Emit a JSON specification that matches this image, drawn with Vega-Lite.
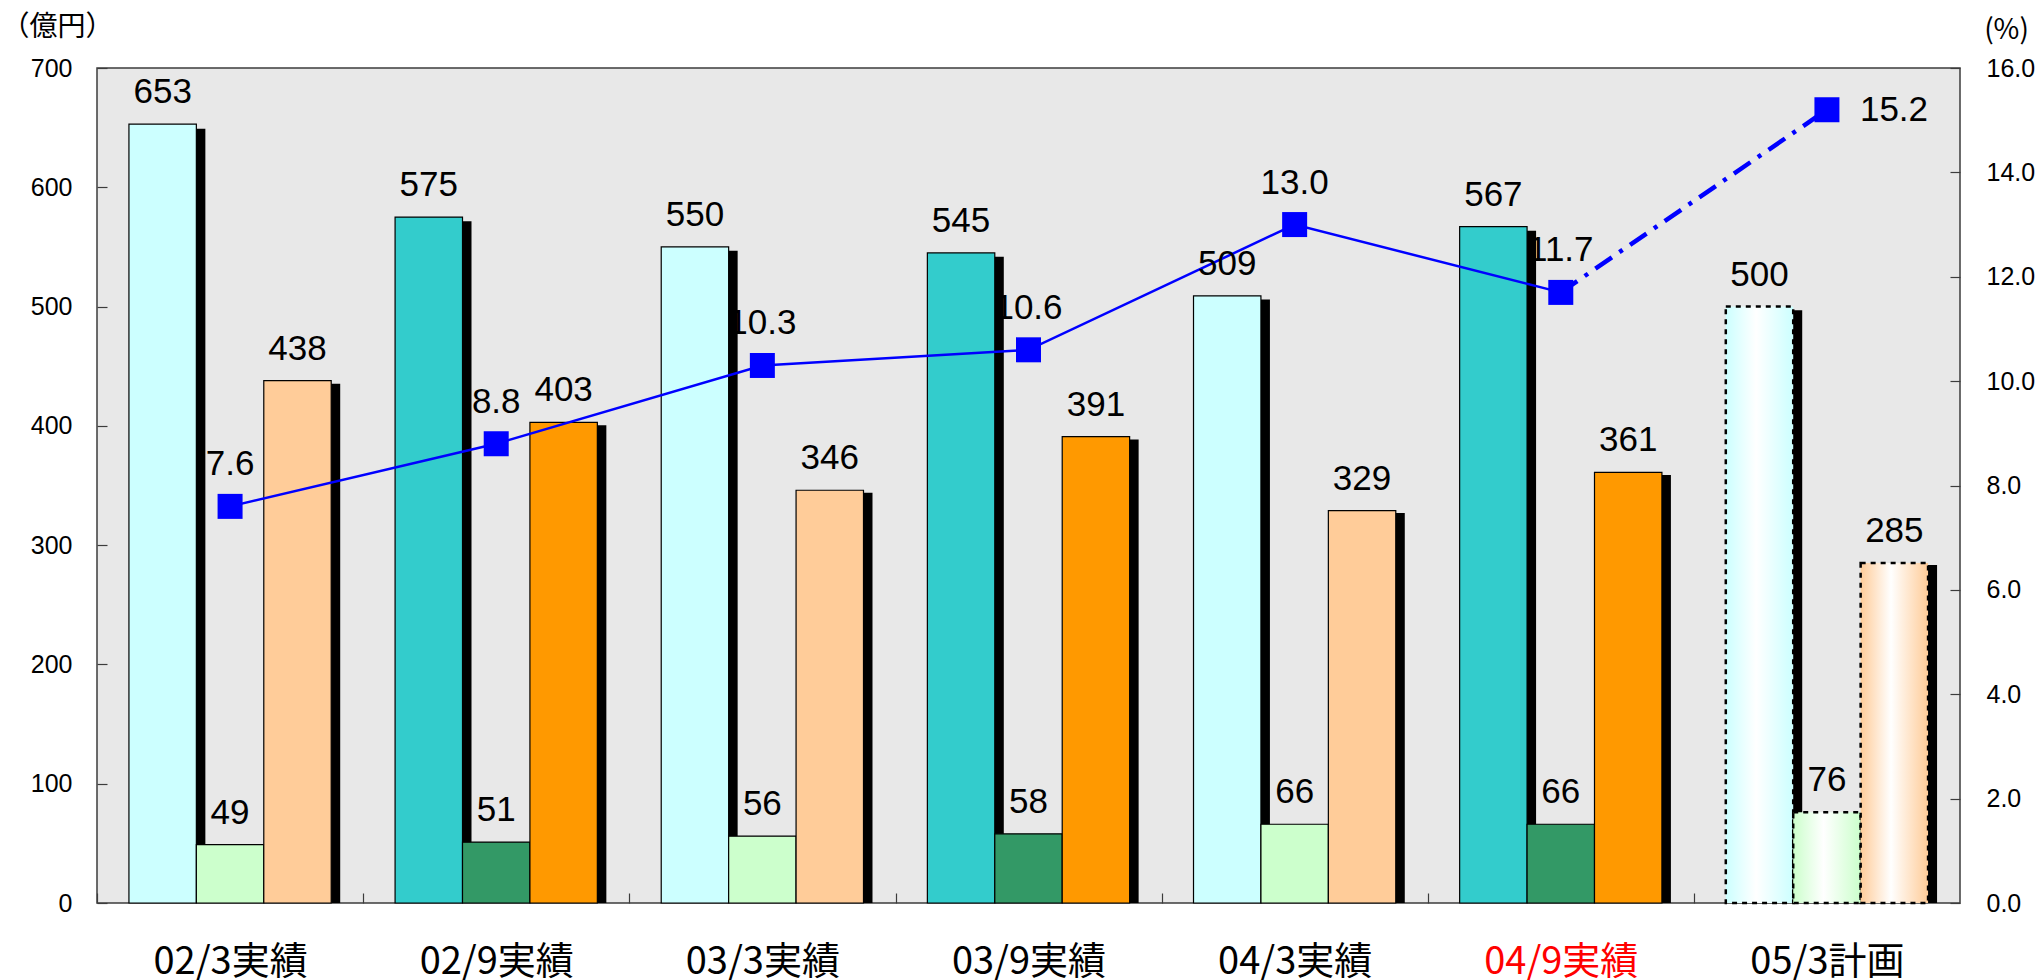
{
  "$schema": "https://vega.github.io/schema/vega-lite/v6.json",
  "width": 1863,
  "height": 835,
  "autosize": {"type": "none"},
  "padding": {"left": 97, "top": 68, "right": 80, "bottom": 77},
  "background": "white",
  "config": {
    "view": {"fill": "#e8e8e8", "stroke": "#3c3c3c", "strokeWidth": 1.5},
    "font": "Liberation Sans",
    "axis": {"domain": false, "grid": false, "tickColor": "#3c3c3c", "tickSize": -10, "tickWidth": 1.2, "labelColor": "black"}
  },
  "datasets": {
    "bars": [
      {"group": "02/3実績", "period": "3月", "item": "s1", "value": 653},
      {"group": "02/3実績", "period": "3月", "item": "s2", "value": 49},
      {"group": "02/3実績", "period": "3月", "item": "s3", "value": 438},
      {"group": "02/9実績", "period": "9月", "item": "s1", "value": 575},
      {"group": "02/9実績", "period": "9月", "item": "s2", "value": 51},
      {"group": "02/9実績", "period": "9月", "item": "s3", "value": 403},
      {"group": "03/3実績", "period": "3月", "item": "s1", "value": 550},
      {"group": "03/3実績", "period": "3月", "item": "s2", "value": 56},
      {"group": "03/3実績", "period": "3月", "item": "s3", "value": 346},
      {"group": "03/9実績", "period": "9月", "item": "s1", "value": 545},
      {"group": "03/9実績", "period": "9月", "item": "s2", "value": 58},
      {"group": "03/9実績", "period": "9月", "item": "s3", "value": 391},
      {"group": "04/3実績", "period": "3月", "item": "s1", "value": 509},
      {"group": "04/3実績", "period": "3月", "item": "s2", "value": 66},
      {"group": "04/3実績", "period": "3月", "item": "s3", "value": 329},
      {"group": "04/9実績", "period": "9月", "item": "s1", "value": 567},
      {"group": "04/9実績", "period": "9月", "item": "s2", "value": 66},
      {"group": "04/9実績", "period": "9月", "item": "s3", "value": 361},
      {"group": "05/3計画", "period": "計画", "item": "s1", "value": 500},
      {"group": "05/3計画", "period": "計画", "item": "s2", "value": 76},
      {"group": "05/3計画", "period": "計画", "item": "s3", "value": 285}
    ],
    "ratio": [
      {"group": "02/3実績", "pct": 7.6},
      {"group": "02/9実績", "pct": 8.8},
      {"group": "03/3実績", "pct": 10.3},
      {"group": "03/9実績", "pct": 10.6},
      {"group": "04/3実績", "pct": 13.0},
      {"group": "04/9実績", "pct": 11.7},
      {"group": "05/3計画", "pct": 15.2}
    ]
  },
  "encoding": {
    "x": {
      "field": "group",
      "type": "nominal",
      "sort": null,
      "scale": {
        "domain": ["02/3実績", "02/9実績", "03/3実績", "03/9実績", "04/3実績", "04/9実績", "05/3計画"],
        "paddingInner": 0.24,
        "paddingOuter": 0.12
      },
      "axis": {
        "title": null,
        "orient": "bottom",
        "labelAngle": 0,
        "labelFont": "Noto Sans CJK JP",
        "labelFontSize": 38,
        "labelBaseline": "middle",
        "labelPadding": 69,
        "tickOffset": -133,
        "labelOffset": 133,
        "labelColor": {"condition": {"test": "datum.value === '04/9実績'", "value": "#ff0000"}, "value": "black"}
      }
    }
  },
  "layer": [
    {
      "data": {"name": "ratio"},
      "transform": [{"filter": "datum.group !== '05/3計画'"}],
      "mark": {"type": "text", "fontSize": 35, "baseline": "middle", "dy": -42, "color": "black"},
      "encoding": {
        "y": {"field": "pct", "type": "quantitative", "scale": {"domain": [0, 16]}, "axis": null},
        "text": {"field": "pct", "type": "quantitative", "format": ".1f"}
      }
    },
    {
      "data": {"name": "ratio"},
      "transform": [{"filter": "datum.group === '05/3計画'"}],
      "mark": {"type": "text", "fontSize": 35, "baseline": "middle", "align": "left", "dx": 33, "color": "black"},
      "encoding": {
        "y": {"field": "pct", "type": "quantitative", "scale": {"domain": [0, 16]}, "axis": null},
        "text": {"field": "pct", "type": "quantitative", "format": ".1f"}
      }
    },
    {
      "data": {"name": "bars"},
      "mark": {"type": "bar", "fill": "black", "stroke": null},
      "encoding": {
        "xOffset": {"field": "item", "type": "nominal", "sort": null, "scale": {"range": [9, 211.27], "paddingInner": 0, "paddingOuter": 0}},
        "y": {"field": "value", "type": "quantitative", "scale": {"domain": [0, 700], "range": [835, 5]}, "axis": null}
      }
    },
    {
      "data": {"name": "bars"},
      "transform": [{"filter": "datum.period !== '計画'"}],
      "mark": {"type": "bar", "stroke": "black", "strokeWidth": 1.2},
      "encoding": {
        "xOffset": {"field": "item", "type": "nominal", "sort": null, "scale": {"paddingInner": 0, "paddingOuter": 0}},
        "y": {
          "field": "value",
          "type": "quantitative",
          "scale": {"domain": [0, 700]},
          "axis": {
            "orient": "left",
            "values": [0, 100, 200, 300, 400, 500, 600, 700],
            "labelFontSize": 25,
            "labelAlign": "right",
            "labelPadding": 35,
            "title": "（億円）",
            "titleFont": "Noto Sans CJK JP",
            "titleFontSize": 28,
            "titleFontWeight": "normal",
            "titleAngle": 0,
            "titleAlign": "center",
            "titleBaseline": "middle",
            "titleX": -40,
            "titleY": -41
          }
        },
        "fill": {
          "condition": [
            {"test": "datum.period === '9月' && datum.item === 's1'", "value": "#33CCCC"},
            {"test": "datum.period === '9月' && datum.item === 's2'", "value": "#339966"},
            {"test": "datum.period === '9月' && datum.item === 's3'", "value": "#FF9900"},
            {"test": "datum.item === 's2'", "value": "#CCFFCC"},
            {"test": "datum.item === 's3'", "value": "#FFCC99"}
          ],
          "value": "#CCFFFF"
        }
      }
    },
    {
      "data": {"name": "bars"},
      "transform": [{"filter": "datum.period === '計画'"}],
      "mark": {"type": "bar", "stroke": "black", "strokeWidth": 2.5, "strokeDash": [5, 5]},
      "encoding": {
        "xOffset": {"field": "item", "type": "nominal", "sort": null, "scale": {"paddingInner": 0, "paddingOuter": 0}},
        "y": {"field": "value", "type": "quantitative", "scale": {"domain": [0, 700]}, "axis": null},
        "fill": {
          "condition": [
            {"test": "datum.item === 's2'", "value": {"gradient": "linear", "x1": 0, "y1": 0, "x2": 1, "y2": 0, "stops": [{"offset": 0, "color": "#CCFFCC"}, {"offset": 0.45, "color": "#FFFFFF"}, {"offset": 1, "color": "#CCFFCC"}]}},
            {"test": "datum.item === 's3'", "value": {"gradient": "linear", "x1": 0, "y1": 0, "x2": 1, "y2": 0, "stops": [{"offset": 0, "color": "#FFCC99"}, {"offset": 0.45, "color": "#FFFFFF"}, {"offset": 1, "color": "#FFCC99"}]}}
          ],
          "value": {"gradient": "linear", "x1": 0, "y1": 0, "x2": 1, "y2": 0, "stops": [{"offset": 0, "color": "#CCFFFF"}, {"offset": 0.45, "color": "#FFFFFF"}, {"offset": 1, "color": "#CCFFFF"}]}
        }
      }
    },
    {
      "data": {"name": "ratio"},
      "transform": [{"filter": "datum.group !== '05/3計画'"}],
      "mark": {"type": "line", "color": "#0000FF", "strokeWidth": 2.5},
      "encoding": {
        "y": {
          "field": "pct",
          "type": "quantitative",
          "scale": {"domain": [0, 16]},
          "axis": {
            "orient": "right",
            "values": [0, 2, 4, 6, 8, 10, 12, 14, 16],
            "format": ".1f",
            "labelFontSize": 25,
            "labelAlign": "left",
            "labelPadding": 36,
            "title": "(%)",
            "titleFont": "Noto Sans CJK JP",
            "titleFontSize": 28,
            "titleFontWeight": "normal",
            "titleAngle": 0,
            "titleAlign": "center",
            "titleBaseline": "middle",
            "titleX": 46,
            "titleY": -38
          }
        }
      }
    },
    {
      "data": {"name": "ratio"},
      "transform": [{"filter": {"field": "group", "oneOf": ["04/9実績", "05/3計画"]}}],
      "mark": {"type": "line", "color": "#0000FF", "strokeWidth": 4.5, "strokeDash": [20, 9, 4, 9]},
      "encoding": {
        "y": {"field": "pct", "type": "quantitative", "scale": {"domain": [0, 16]}, "axis": null}
      }
    },
    {
      "data": {"name": "ratio"},
      "mark": {"type": "point", "shape": "square", "size": 625, "filled": true, "color": "#0000FF", "opacity": 1},
      "encoding": {
        "y": {"field": "pct", "type": "quantitative", "scale": {"domain": [0, 16]}, "axis": null}
      }
    },
    {
      "data": {"name": "bars"},
      "mark": {"type": "text", "fontSize": 35, "baseline": "middle", "dy": -32, "color": "black"},
      "encoding": {
        "xOffset": {"field": "item", "type": "nominal", "sort": null, "scale": {"type": "point", "padding": 0.5}},
        "y": {"field": "value", "type": "quantitative", "scale": {"domain": [0, 700]}, "axis": null},
        "text": {"field": "value", "type": "quantitative"}
      }
    }
  ],
  "resolve": {"scale": {"y": "independent", "xOffset": "independent"}}
}
